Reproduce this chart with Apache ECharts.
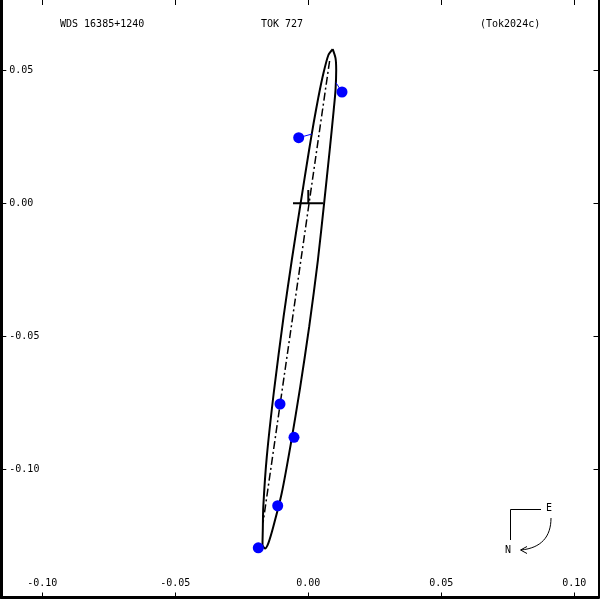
<!DOCTYPE html>
<html>
<head>
<meta charset="utf-8">
<script src="https://cdn.jsdelivr.net/npm/echarts@6/dist/echarts.min.js"></script>
<style>html,body{margin:0;padding:0;background:#fff}#c{width:600px;height:600px}</style>
</head>
<body>
<div id="c"></div>
<script>
// ---- data ----
const xTicks = [-0.10, -0.05, 0.00, 0.05, 0.10];
const yTicks = [-0.10, -0.05, 0.00, 0.05];
const titleLeft = 'WDS 16385+1240';
const titleMid = 'TOK 727';
const titleRight = '(Tok2024c)';

// apparent orbit (x, y in arcsec)
const orbitX = [0.00917, 0.01023, 0.01049, 0.01023, 0.00955, 0.00805, 0.00594, 0.00361, 0.00034,
  -0.00312, -0.00654, -0.01000, -0.01316, -0.01504, -0.01628,
  -0.01722, -0.01711, -0.01692, -0.01560, -0.01286, -0.00929, -0.00620, -0.00289,
  0.00030, 0.00199, 0.00383, 0.00571, 0.00756, 0.00917];
const orbitY = [0.05797, 0.05459, 0.05008, 0.04256, 0.03504, 0.02004, 0.00000, -0.02132, -0.04639,
  -0.06955, -0.09023, -0.10902, -0.12158, -0.12782, -0.12977,
  -0.12846, -0.12282, -0.11406, -0.09526, -0.07019, -0.04263, -0.02132, 0.00000,
  0.02004, 0.03008, 0.04008, 0.04898, 0.05575, 0.05797];

// line of nodes
const nodeX = [0.0080, -0.0170];
const nodeY = [0.0535, -0.1200];

// primary marker
const crossHX = [-0.00575, 0.00553];
const crossHY = [0, 0];
const crossVX = [0, 0];
const crossVY = [0, 0.0050];

// observations
const obsX = [0.01267, -0.00361, -0.01064, -0.00538, -0.01150, -0.01880];
const obsY = [0.04184, 0.02466, -0.07545, -0.08797, -0.11370, -0.12950];
// residual line ends on the orbit
const resX = [0.01041, 0.00139, -0.01040, -0.00620, -0.01150, -0.01680];
const resY = [0.04534, 0.02605, -0.07545, -0.08797, -0.11370, -0.12950];

// ---- layout ----
const PX = 2660;
const X0 = 308.3, Y0 = 203.3;
const GL = 1.3, GR = 598.5, GT = 0, GB = 597.5;
const X_MIN = (GL - X0) / PX, X_MAX = (GR - X0) / PX;
const Y_MIN = (Y0 - GB) / PX, Y_MAX = (Y0 - GT) / PX;
const FONT = 'DejaVu Sans Mono';

const chart = echarts.init(document.getElementById('c'), null, {renderer: 'canvas'});

const zip = (a, b) => a.map((v, i) => [v, b[i]]);
const fmt = v => v.toFixed(2);

const series = [];
series.push({
  type: 'line', data: zip(orbitX, orbitY), symbol: 'none', smooth: 0.25,
  lineStyle: {color: '#000', width: 2}, z: 3
});
series.push({
  type: 'line', data: zip(nodeX, nodeY), symbol: 'none',
  lineStyle: {color: '#000', width: 1.5, type: [8, 3, 2, 3]}, z: 2
});
series.push({
  type: 'line', data: zip(crossHX, crossHY), symbol: 'none',
  lineStyle: {color: '#000', width: 2}, z: 3
});
series.push({
  type: 'line', data: zip(crossVX, crossVY), symbol: 'none',
  lineStyle: {color: '#000', width: 2}, z: 3
});
obsX.forEach((x, i) => {
  series.push({
    type: 'line', data: [[x, obsY[i]], [resX[i], resY[i]]], symbol: 'none',
    lineStyle: {color: '#0000ff', width: 1}, z: 4
  });
});
series.push({
  type: 'scatter', data: zip(obsX, obsY), symbol: 'circle', symbolSize: 11,
  itemStyle: {color: '#0000ff', opacity: 1}, z: 5
});

const axisCommon = {
  type: 'value', splitLine: {show: false}
};

chart.setOption({
  animation: false,
  backgroundColor: '#fff',
  grid: {left: GL, right: 600 - GR, top: GT, bottom: 600 - GB, containLabel: false},
  xAxis: [
    Object.assign({}, axisCommon, {
      position: 'bottom', min: X_MIN, max: X_MAX,
      axisLine: {show: true, onZero: false, lineStyle: {color: '#000', width: 3}},
      axisTick: {show: true, inside: true, length: 5, customValues: xTicks, lineStyle: {color: '#000', width: 1}},
      axisLabel: {show: true, inside: true, customValues: xTicks, formatter: fmt, margin: 9,
        color: '#000', fontFamily: FONT, fontSize: 10}
    }),
    Object.assign({}, axisCommon, {
      position: 'top', min: X_MIN, max: X_MAX,
      axisLine: {show: false, onZero: false},
      axisTick: {show: true, inside: true, length: 5, customValues: xTicks, lineStyle: {color: '#000', width: 1}},
      axisLabel: {show: false}
    })
  ],
  yAxis: [
    Object.assign({}, axisCommon, {
      position: 'left', min: Y_MIN, max: Y_MAX,
      axisLine: {show: true, onZero: false, lineStyle: {color: '#000', width: 3}},
      axisTick: {show: true, inside: true, length: 5, customValues: yTicks, lineStyle: {color: '#000', width: 1}},
      axisLabel: {show: true, inside: true, customValues: yTicks, formatter: fmt, margin: 8,
        color: '#000', fontFamily: FONT, fontSize: 10}
    }),
    Object.assign({}, axisCommon, {
      position: 'right', min: Y_MIN, max: Y_MAX,
      axisLine: {show: true, onZero: false, lineStyle: {color: '#000', width: 2}},
      axisTick: {show: true, inside: true, length: 5, customValues: yTicks, lineStyle: {color: '#000', width: 1}},
      axisLabel: {show: false}
    })
  ],
  series: series,
  graphic: [
    {type: 'text', left: 60, top: 19, style: {text: titleLeft, fill: '#000', font: '10px ' + FONT}},
    {type: 'text', left: 261, top: 19, style: {text: titleMid, fill: '#000', font: '10px ' + FONT}},
    {type: 'text', left: 480, top: 19, style: {text: titleRight, fill: '#000', font: '10px ' + FONT}},
    {type: 'polyline', shape: {points: [[541, 509.5], [510.5, 509.5], [510.5, 540]]}, style: {stroke: '#000', lineWidth: 1, fill: null}},
    {type: 'text', x: 546, y: 503, style: {text: 'E', fill: '#000', font: '10px ' + FONT}},
    {type: 'text', x: 505, y: 545, style: {text: 'N', fill: '#000', font: '10px ' + FONT}},
    {type: 'bezierCurve', shape: {x1: 551, y1: 518, cpx1: 551, cpy1: 537, cpx2: 541, cpy2: 548, x2: 521, y2: 550},
      style: {stroke: '#000', lineWidth: 1, fill: null}},
    {type: 'polyline', shape: {points: [[527, 546.5], [520.5, 550], [527, 553.5]]}, style: {stroke: '#000', lineWidth: 1, fill: null}}
  ]
});
</script>
</body>
</html>
